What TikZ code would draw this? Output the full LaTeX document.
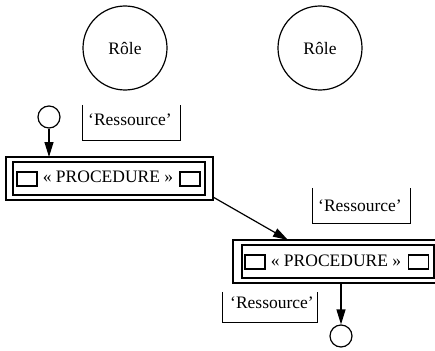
\documentclass[tikz,border=0pt]{standalone}
\usepackage{fontspec}
\setmainfont{Liberation Serif}
\usetikzlibrary{arrows.meta}
\begin{document}
\begin{tikzpicture}[x=1pt,y=-1pt,
  every node/.style={font=\fontsize{17.5}{20}\selectfont},
  line/.style={line width=1.2pt},
  role/.style={circle,draw,line width=1.2pt,minimum size=84pt,inner sep=0pt},
  token/.style={circle,draw,line width=1.2pt,minimum size=22pt,inner sep=0pt},
  outerbox/.style={rectangle,draw,line width=1.2pt,minimum width=207pt,minimum height=43pt,inner sep=0pt},
  innerbox/.style={rectangle,draw,line width=1.2pt,minimum width=192pt,minimum height=33pt,inner sep=0pt},
  port/.style={rectangle,draw,line width=1.2pt,minimum width=20pt,minimum height=14pt,inner sep=0pt},
  label/.style={inner sep=0pt},
  res/.style={rectangle,inner sep=0pt,minimum width=97pt,minimum height=35pt},
  arr/.style={line width=1.2pt,-{Triangle[length=15pt,width=9pt]}}
]
\useasboundingbox (0,0) rectangle (435,350);
\clip (0,0) rectangle (435,350);
% roles
\node[role] (role1) at (125,48) {Rôle};
\node[role] (role2) at (320,48) {Rôle};
% procedure 1
\node[outerbox] (p1) at (109.5,178.5) {};
\node[innerbox] (p1i) at (109,178.5) {};
\node[port] (p1a) at (27,179) {};
\node[port] (p1b) at (190,179) {};
\node[label] (p1t) at (108,177) {« PROCEDURE »};
% procedure 2
\node[outerbox] (p2) at (336.5,261.5) {};
\node[innerbox] (p2i) at (338,261.5) {};
\node[port] (p2a) at (255,262) {};
\node[port] (p2b) at (418.5,262) {};
\node[label] (p2t) at (336,261) {« PROCEDURE »};
% tokens
\node[token] (t1) at (49,117) {};
\node[token] (t2) at (341,336) {};
% ressources
\node[res] (r1) at (131.4,122.5) {};
\node[label] (r1t) at (130,120) {‘Ressource’};
\draw[line] (r1.north west) -- (r1.south west) -- (r1.south east) -- (r1.north east);
\node[res] (r2) at (361.5,205.5) {};
\node[label] (r2t) at (360,206) {‘Ressource’};
\draw[line] (r2.north west) -- (r2.south west) -- (r2.south east) -- (r2.north east);
\node[res,minimum width=94pt,minimum height=30pt] (r3) at (270,307) {};
\node[label] (r3t) at (272,303) {‘Ressource’};
\draw[line] (r3.north west) -- (r3.south west) -- (r3.south east) -- (r3.north east);
% connectors
\coordinate (p1top) at (49,157);
\coordinate (p1out) at (213,197);
\coordinate (p2in) at (288,240);
\coordinate (p2bot) at (341,283);
\draw[arr] (t1) -- (p1top);
\draw[arr] (p1out) -- (p2in);
\draw[arr] (p2bot) -- (t2);
\end{tikzpicture}
\end{document}
